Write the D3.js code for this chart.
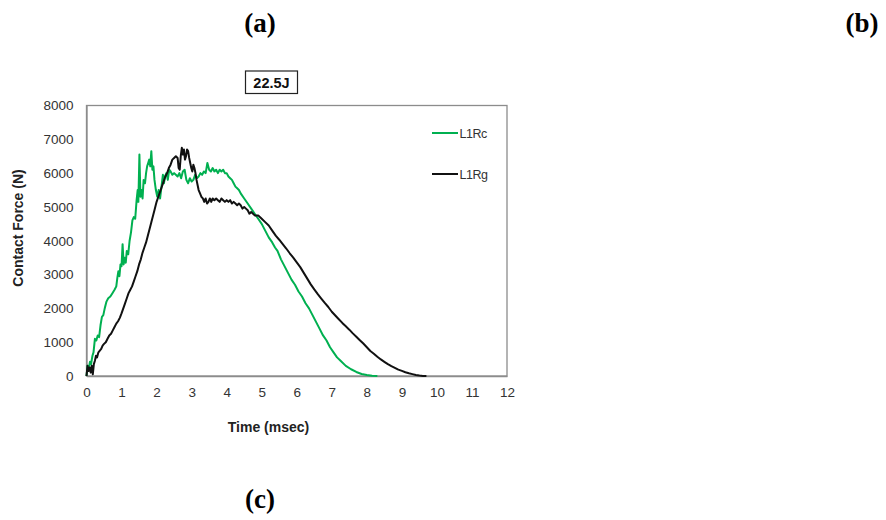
<!DOCTYPE html>
<html><head><meta charset="utf-8">
<script src="https://cdn.jsdelivr.net/npm/d3@7"></script>
<style>body{margin:0;background:#fff}svg{display:block}</style>
</head><body>
<script>
const xTicks = [0,1,2,3,4,5,6,7,8,9,10,11,12];
const yTicks = [0,1000,2000,3000,4000,5000,6000,7000,8000];
const seriesNames = ["L1Rc","L1Rg"];
const timeRc = [0.00,0.03,0.07,0.10,0.13,0.17,0.20,0.24,0.28,0.32,0.36,0.40,0.44,0.48,0.52,0.57,0.62,0.68,0.74,0.80,0.85,0.88,0.91,0.94,0.97,1.00,1.03,1.06,1.09,1.12,1.15,1.19,1.23,1.27,1.31,1.35,1.39,1.43,1.46,1.48,1.51,1.54,1.57,1.60,1.63,1.67,1.70,1.73,1.76,1.79,1.82,1.85,1.88,1.91,1.94,1.98,2.02,2.06,2.10,2.14,2.18,2.21,2.24,2.28,2.32,2.36,2.40,2.45,2.50,2.55,2.60,2.65,2.70,2.75,2.80,2.85,2.90,2.95,3.00,3.05,3.10,3.15,3.20,3.25,3.30,3.35,3.40,3.45,3.50,3.55,3.60,3.65,3.70,3.75,3.80,3.85,3.90,3.95,4.00,4.05,4.10,4.15,4.20,4.25,4.30,4.35,4.40,4.50,4.60,4.70,4.80,4.90,5.00,5.10,5.20,5.30,5.38,5.45,5.55,5.65,5.75,5.85,5.95,6.05,6.15,6.25,6.35,6.45,6.55,6.65,6.75,6.85,6.95,7.05,7.15,7.25,7.40,7.55,7.70,7.85,8.00,8.15,8.30];
const forceRc = [0,300,250,420,350,600,700,1100,1050,1200,1150,1500,1750,1800,2000,2200,2300,2350,2450,2550,2650,2900,3100,2950,3300,3250,3900,3300,3500,3350,3700,3600,4000,4250,4600,4700,4650,5200,5500,5150,6550,5300,5500,5250,5800,5700,6000,6200,6300,6400,6200,6650,6100,6200,5800,5500,5300,5500,5250,5600,5950,5700,5900,6000,5800,6100,6050,5950,6000,5950,5900,6000,5850,6050,6100,5800,5700,5850,5750,5800,5950,5850,5900,6000,5950,6050,6000,6300,6100,6050,6150,6050,6100,6000,6100,6050,6100,6000,6000,5900,5850,5800,5700,5600,5550,5500,5400,5250,5100,4950,4800,4650,4500,4300,4100,3950,3800,3700,3450,3250,3050,2850,2700,2500,2350,2150,2000,1800,1600,1400,1200,1050,850,700,550,450,300,200,120,60,30,10,0];
const timeRg = [0.00,0.03,0.06,0.09,0.12,0.15,0.18,0.21,0.24,0.27,0.30,0.34,0.38,0.42,0.46,0.50,0.55,0.60,0.65,0.70,0.75,0.80,0.85,0.90,0.95,1.00,1.05,1.10,1.15,1.20,1.25,1.30,1.35,1.40,1.45,1.50,1.55,1.60,1.65,1.70,1.75,1.80,1.85,1.90,1.95,2.00,2.05,2.10,2.15,2.20,2.25,2.30,2.35,2.40,2.45,2.50,2.55,2.60,2.63,2.66,2.69,2.72,2.75,2.78,2.81,2.84,2.87,2.90,2.93,2.96,2.99,3.02,3.05,3.08,3.11,3.14,3.17,3.20,3.24,3.28,3.32,3.36,3.40,3.44,3.48,3.52,3.56,3.60,3.65,3.70,3.75,3.80,3.85,3.90,3.95,4.00,4.05,4.10,4.15,4.20,4.25,4.30,4.35,4.40,4.45,4.50,4.55,4.60,4.65,4.70,4.80,4.90,5.00,5.10,5.20,5.30,5.40,5.50,5.60,5.70,5.80,5.90,6.00,6.10,6.20,6.30,6.40,6.50,6.60,6.70,6.80,6.90,7.00,7.10,7.20,7.30,7.40,7.50,7.60,7.70,7.80,7.90,8.00,8.10,8.20,8.30,8.40,8.50,8.60,8.70,8.80,8.90,9.00,9.10,9.20,9.30,9.40,9.50,9.60,9.70];
const forceRg = [0,300,150,250,100,300,50,350,450,600,550,700,750,800,900,950,1000,1100,1200,1250,1350,1450,1550,1620,1720,1850,2000,2150,2300,2450,2550,2650,2800,2950,3100,3300,3450,3650,3800,3950,4150,4350,4550,4750,4950,5150,5300,5450,5600,5750,5900,6000,6150,6250,6400,6450,6500,6450,6150,6100,6500,6750,6550,6700,6400,6500,6700,6650,6450,6300,6150,6050,6250,6150,6000,5800,5650,5500,5400,5300,5250,5150,5250,5100,5150,5250,5150,5250,5200,5250,5200,5150,5250,5200,5150,5200,5150,5200,5100,5150,5100,5050,5100,5050,4950,5000,4950,4900,4800,4850,4750,4750,4650,4550,4450,4300,4150,4030,3900,3770,3630,3500,3360,3220,3050,2880,2710,2560,2420,2290,2160,2040,1900,1790,1680,1570,1470,1370,1260,1160,1060,960,850,740,660,570,490,420,350,290,240,190,150,110,80,55,30,12,3,0];
const seriesColors = ["#00b050","#111111"];

const W = 886, H = 520;
const svg = d3.select("body").append("svg").attr("width", W).attr("height", H);
const x0 = 86.5, x1 = 507, y0 = 376, y1 = 105.5;
const x = d3.scaleLinear().domain([0,12]).range([x0,x1]);
const y = d3.scaleLinear().domain([0,8000]).range([y0,y1]);

// panel labels
const serif = "'Liberation Serif','Times New Roman',serif";
svg.append("text").attr("x",260).attr("y",32).attr("text-anchor","middle").attr("font-family",serif).attr("font-weight","bold").attr("font-size",27).text("(a)");
svg.append("text").attr("x",862).attr("y",32).attr("text-anchor","middle").attr("font-family",serif).attr("font-weight","bold").attr("font-size",27).text("(b)");
svg.append("text").attr("x",260).attr("y",508).attr("text-anchor","middle").attr("font-family",serif).attr("font-weight","bold").attr("font-size",27).text("(c)");

const sans = "'Liberation Sans',Arial,sans-serif";
// energy box
svg.append("rect").attr("x",245.5).attr("y",71).attr("width",52).attr("height",22.5).attr("fill","#fff").attr("stroke","#222").attr("stroke-width",1.2);
svg.append("text").attr("x",271.5).attr("y",88).attr("text-anchor","middle").attr("font-family",sans).attr("font-weight","bold").attr("font-size",14.5).attr("fill","#111").text("22.5J");

// plot frame
svg.append("rect").attr("x",x0).attr("y",y1).attr("width",x1-x0).attr("height",y0-y1).attr("fill","none").attr("stroke","#8c8c8c").attr("stroke-width",1.3);

// axes
const xAxis = d3.axisBottom(x).tickValues(xTicks).tickSize(0).tickPadding(11).tickFormat(d3.format("d"));
const gx = svg.append("g").attr("transform",`translate(0,${y0})`).call(xAxis);
const yAxis = d3.axisLeft(y).tickValues(yTicks).tickSize(0).tickPadding(13).tickFormat(d3.format("d"));
const gy = svg.append("g").attr("transform",`translate(${x0},0)`).call(yAxis);
[gx,gy].forEach(g=>{
  g.select(".domain").attr("stroke","#8c8c8c").attr("stroke-width",1.3);
  g.selectAll("text").attr("font-family",sans).attr("font-size",13.5).attr("fill","#333");
});

// axis titles
svg.append("text").attr("x",268.5).attr("y",432).attr("text-anchor","middle").attr("font-family",sans).attr("font-weight","bold").attr("font-size",14).attr("fill","#222").text("Time (msec)");
svg.append("text").attr("transform","translate(22.5,228) rotate(-90)").attr("text-anchor","middle").attr("font-family",sans).attr("font-weight","bold").attr("font-size",14).attr("fill","#222").text("Contact Force (N)");

// lines
const line = d3.line().x(d=>x(d[0])).y(d=>y(d[1]));
const dataRc = timeRc.map((t,i)=>[t,forceRc[i]]);
const dataRg = timeRg.map((t,i)=>[t,forceRg[i]]);
svg.append("path").datum(dataRc).attr("d",line).attr("fill","none").attr("stroke",seriesColors[0]).attr("stroke-width",2).attr("stroke-linejoin","round");
svg.append("path").datum(dataRg).attr("d",line).attr("fill","none").attr("stroke",seriesColors[1]).attr("stroke-width",2).attr("stroke-linejoin","round");

// legend
const leg = [{n:seriesNames[0],c:seriesColors[0],y:133},{n:seriesNames[1],c:seriesColors[1],y:174}];
leg.forEach(l=>{
  svg.append("line").attr("x1",432).attr("x2",458).attr("y1",l.y).attr("y2",l.y).attr("stroke",l.c).attr("stroke-width",2);
  svg.append("text").attr("x",459.5).attr("y",l.y+5).attr("font-family",sans).attr("font-size",12.5).attr("letter-spacing","-0.5").attr("fill","#333").text(l.n);
});
</script>
</body></html>
